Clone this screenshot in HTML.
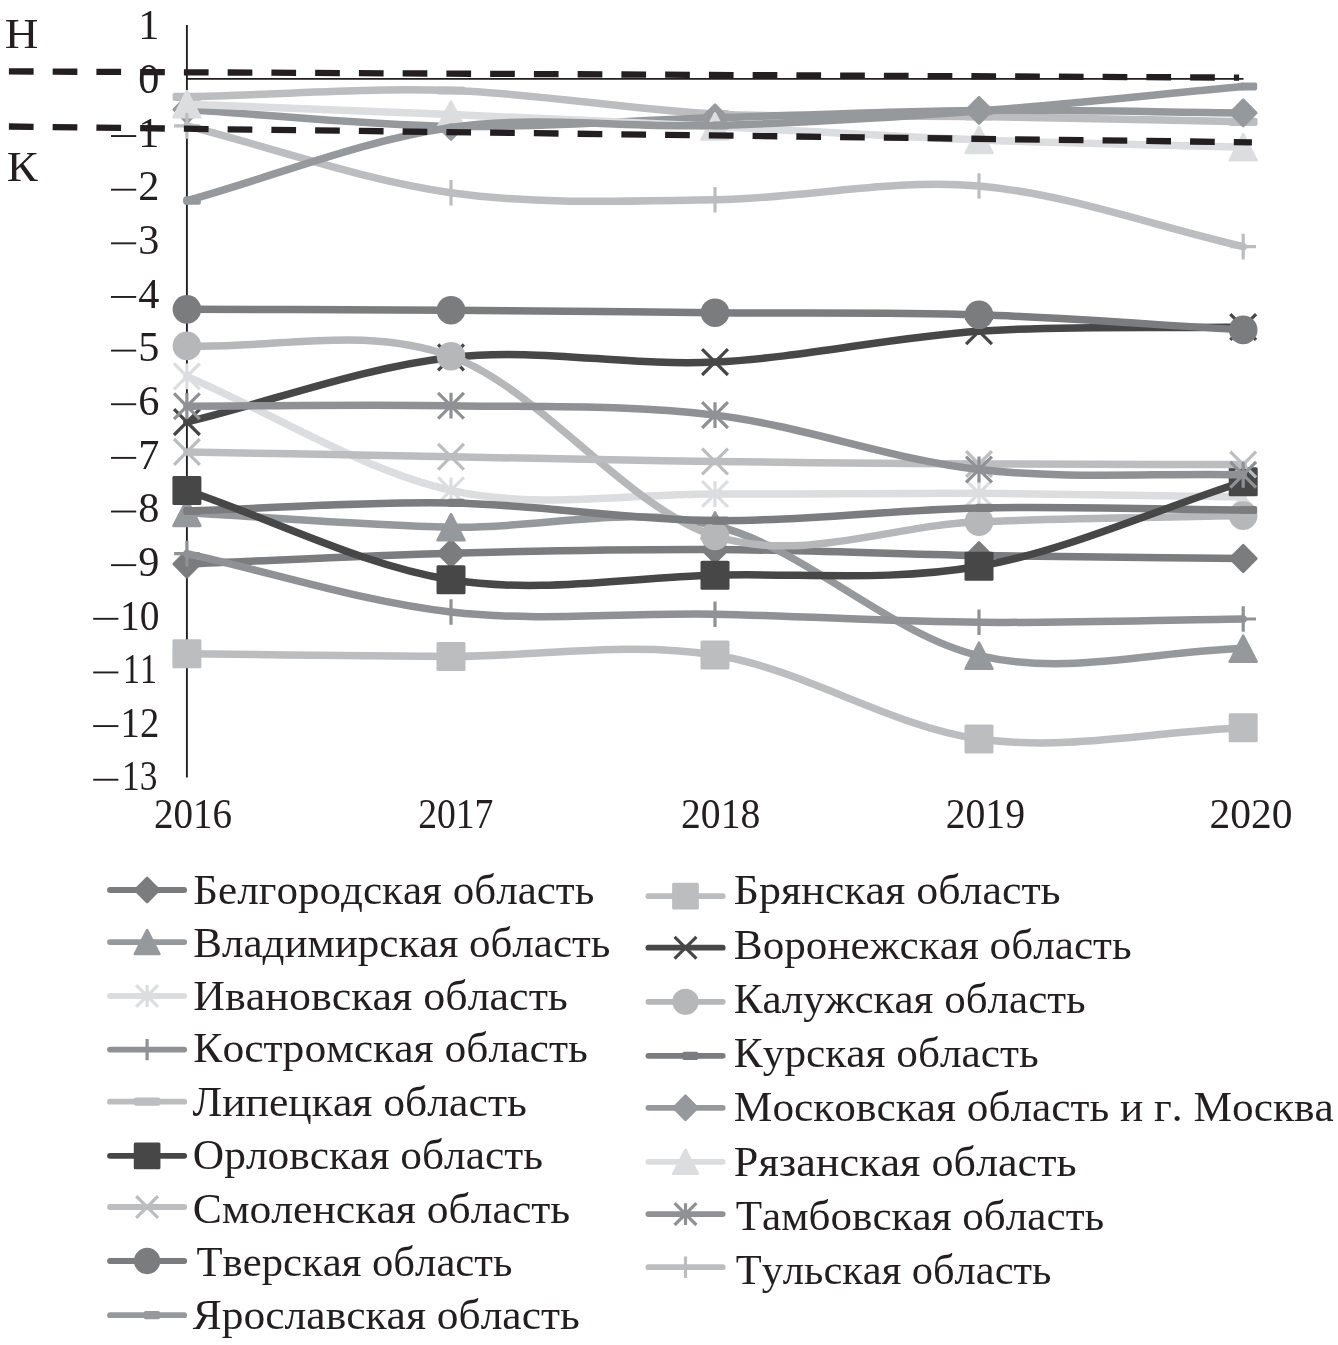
<!DOCTYPE html><html><head><meta charset="utf-8"><style>html,body{margin:0;padding:0;background:#fff;}svg{display:block}text{font-family:"Liberation Serif",serif;font-kerning:none;}svg{will-change:transform}</style></head><body>
<svg width="1338" height="1345" viewBox="0 0 1338 1345">
<rect width="1338" height="1345" fill="#fff"/>
<path d="M186.9,25 L186.9,777.5" stroke="#231f20" stroke-width="1.9" fill="none"/>
<path d="M186.9,78.9 L1243.5,78.9" stroke="#231f20" stroke-width="1.9" fill="none"/>
<path d="M186.90,564.00 C274.93,560.43 362.98,555.72 451.00,553.30 C539.02,550.88 627.00,549.12 715.00,549.50 C803.00,549.88 890.97,554.10 979.00,555.60 C1067.03,557.10 1155.13,557.53 1243.20,558.50" stroke="#7b7c7e" stroke-width="7.5" fill="none" stroke-linecap="round" stroke-linejoin="round"/>
<path d="M186.90,550.75 L200.00,564.00 L186.90,577.25 L173.80,564.00 Z" fill="#7b7c7e" stroke="#7b7c7e" stroke-width="2.60" stroke-linejoin="round"/>
<path d="M451.00,540.05 L464.10,553.30 L451.00,566.55 L437.90,553.30 Z" fill="#7b7c7e" stroke="#7b7c7e" stroke-width="2.60" stroke-linejoin="round"/>
<path d="M715.00,536.25 L728.10,549.50 L715.00,562.75 L701.90,549.50 Z" fill="#7b7c7e" stroke="#7b7c7e" stroke-width="2.60" stroke-linejoin="round"/>
<path d="M979.00,542.35 L992.10,555.60 L979.00,568.85 L965.90,555.60 Z" fill="#7b7c7e" stroke="#7b7c7e" stroke-width="2.60" stroke-linejoin="round"/>
<path d="M1243.20,545.25 L1256.30,558.50 L1243.20,571.75 L1230.10,558.50 Z" fill="#7b7c7e" stroke="#7b7c7e" stroke-width="2.60" stroke-linejoin="round"/>
<path d="M186.90,653.80 C274.93,654.67 362.98,656.20 451.00,656.40 C539.02,656.60 627.00,641.23 715.00,655.00 C803.00,668.77 890.97,726.87 979.00,739.00 C1067.03,751.13 1155.13,731.53 1243.20,727.80" stroke="#bcbdbf" stroke-width="7.5" fill="none" stroke-linecap="round" stroke-linejoin="round"/>
<rect x="172.40" y="639.30" width="29.00" height="29.00" rx="1.5" fill="#bcbdbf"/>
<rect x="436.50" y="641.90" width="29.00" height="29.00" rx="1.5" fill="#bcbdbf"/>
<rect x="700.50" y="640.50" width="29.00" height="29.00" rx="1.5" fill="#bcbdbf"/>
<rect x="964.50" y="724.50" width="29.00" height="29.00" rx="1.5" fill="#bcbdbf"/>
<rect x="1228.70" y="713.30" width="29.00" height="29.00" rx="1.5" fill="#bcbdbf"/>
<path d="M186.90,512.80 C274.93,517.60 362.98,525.08 451.00,527.20 C539.02,529.32 627.00,504.08 715.00,525.50 C803.00,546.92 890.97,635.18 979.00,655.70 C1067.03,676.22 1155.13,650.97 1243.20,648.60" stroke="#96999c" stroke-width="7.5" fill="none" stroke-linecap="round" stroke-linejoin="round"/>
<path d="M186.90,499.75 L200.35,525.85 L173.45,525.85 Z" fill="#96999c" stroke="#96999c" stroke-width="2.60" stroke-linejoin="round"/>
<path d="M451.00,514.15 L464.45,540.25 L437.55,540.25 Z" fill="#96999c" stroke="#96999c" stroke-width="2.60" stroke-linejoin="round"/>
<path d="M715.00,512.45 L728.45,538.55 L701.55,538.55 Z" fill="#96999c" stroke="#96999c" stroke-width="2.60" stroke-linejoin="round"/>
<path d="M979.00,642.65 L992.45,668.75 L965.55,668.75 Z" fill="#96999c" stroke="#96999c" stroke-width="2.60" stroke-linejoin="round"/>
<path d="M1243.20,635.55 L1256.65,661.65 L1229.75,661.65 Z" fill="#96999c" stroke="#96999c" stroke-width="2.60" stroke-linejoin="round"/>
<path d="M186.90,422.10 C274.93,400.53 362.98,367.40 451.00,357.40 C539.02,347.40 627.00,366.47 715.00,362.10 C803.00,357.73 890.97,337.05 979.00,331.20 C1067.03,325.35 1155.13,328.40 1243.20,327.00" stroke="#474748" stroke-width="7.5" fill="none" stroke-linecap="round" stroke-linejoin="round"/>
<path d="M174.00,409.20 L199.80,435.00 M174.00,435.00 L199.80,409.20" stroke="#474748" stroke-width="3.2" fill="none"/>
<path d="M438.10,344.50 L463.90,370.30 M438.10,370.30 L463.90,344.50" stroke="#474748" stroke-width="3.2" fill="none"/>
<path d="M702.10,349.20 L727.90,375.00 M702.10,375.00 L727.90,349.20" stroke="#474748" stroke-width="3.2" fill="none"/>
<path d="M966.10,318.30 L991.90,344.10 M966.10,344.10 L991.90,318.30" stroke="#474748" stroke-width="3.2" fill="none"/>
<path d="M1230.30,314.10 L1256.10,339.90 M1230.30,339.90 L1256.10,314.10" stroke="#474748" stroke-width="3.2" fill="none"/>
<path d="M186.90,376.40 C274.93,414.37 362.98,470.70 451.00,490.30 C539.02,509.90 627.00,493.52 715.00,494.00 C803.00,494.48 890.97,492.70 979.00,493.20 C1067.03,493.70 1155.13,495.73 1243.20,497.00" stroke="#dcddde" stroke-width="7.5" fill="none" stroke-linecap="round" stroke-linejoin="round"/>
<path d="M174.00,363.50 L199.80,389.30 M174.00,389.30 L199.80,363.50 M186.90,363.50 L186.90,389.30" stroke="#dcddde" stroke-width="3.2" fill="none"/>
<path d="M438.10,477.40 L463.90,503.20 M438.10,503.20 L463.90,477.40 M451.00,477.40 L451.00,503.20" stroke="#dcddde" stroke-width="3.2" fill="none"/>
<path d="M702.10,481.10 L727.90,506.90 M702.10,506.90 L727.90,481.10 M715.00,481.10 L715.00,506.90" stroke="#dcddde" stroke-width="3.2" fill="none"/>
<path d="M966.10,480.30 L991.90,506.10 M966.10,506.10 L991.90,480.30 M979.00,480.30 L979.00,506.10" stroke="#dcddde" stroke-width="3.2" fill="none"/>
<path d="M1230.30,484.10 L1256.10,509.90 M1230.30,509.90 L1256.10,484.10 M1243.20,484.10 L1243.20,509.90" stroke="#dcddde" stroke-width="3.2" fill="none"/>
<path d="M186.90,345.90 C274.93,349.33 362.98,324.52 451.00,356.20 C539.02,387.88 627.00,508.42 715.00,536.00 C803.00,563.58 890.97,525.10 979.00,521.70 C1067.03,518.30 1155.13,517.63 1243.20,515.60" stroke="#b6b7b9" stroke-width="7.5" fill="none" stroke-linecap="round" stroke-linejoin="round"/>
<circle cx="186.90" cy="345.90" r="14.30" fill="#b6b7b9"/>
<circle cx="451.00" cy="356.20" r="14.30" fill="#b6b7b9"/>
<circle cx="715.00" cy="536.00" r="14.30" fill="#b6b7b9"/>
<circle cx="979.00" cy="521.70" r="14.30" fill="#b6b7b9"/>
<circle cx="1243.20" cy="515.60" r="14.30" fill="#b6b7b9"/>
<path d="M186.90,553.60 C274.93,573.07 362.98,601.90 451.00,612.00 C539.02,622.10 627.00,612.48 715.00,614.20 C803.00,615.92 890.97,621.50 979.00,622.30 C1067.03,623.10 1155.13,620.10 1243.20,619.00" stroke="#909194" stroke-width="7.5" fill="none" stroke-linecap="round" stroke-linejoin="round"/>
<path d="M174.10,553.60 L199.70,553.60 M186.90,540.80 L186.90,566.40" stroke="#909194" stroke-width="3.2" fill="none"/>
<path d="M438.20,612.00 L463.80,612.00 M451.00,599.20 L451.00,624.80" stroke="#909194" stroke-width="3.2" fill="none"/>
<path d="M702.20,614.20 L727.80,614.20 M715.00,601.40 L715.00,627.00" stroke="#909194" stroke-width="3.2" fill="none"/>
<path d="M966.20,622.30 L991.80,622.30 M979.00,609.50 L979.00,635.10" stroke="#909194" stroke-width="3.2" fill="none"/>
<path d="M1230.40,619.00 L1256.00,619.00 M1243.20,606.20 L1243.20,631.80" stroke="#909194" stroke-width="3.2" fill="none"/>
<path d="M186.90,511.00 C274.93,508.30 362.98,501.30 451.00,502.90 C539.02,504.50 627.00,519.77 715.00,520.60 C803.00,521.43 890.97,509.67 979.00,507.90 C1067.03,506.13 1155.13,509.30 1243.20,510.00" stroke="#7b7c7e" stroke-width="7.5" fill="none" stroke-linecap="round" stroke-linejoin="round"/>
<rect x="183.40" y="506.90" width="17.50" height="8.20" rx="2" fill="#7b7c7e"/>
<rect x="447.50" y="498.80" width="17.50" height="8.20" rx="2" fill="#7b7c7e"/>
<rect x="711.50" y="516.50" width="17.50" height="8.20" rx="2" fill="#7b7c7e"/>
<rect x="975.50" y="503.80" width="17.50" height="8.20" rx="2" fill="#7b7c7e"/>
<rect x="1239.70" y="505.90" width="17.50" height="8.20" rx="2" fill="#7b7c7e"/>
<path d="M186.90,96.90 C274.93,94.77 362.98,87.65 451.00,90.50 C539.02,93.35 627.00,109.67 715.00,114.00 C803.00,118.33 890.97,115.20 979.00,116.50 C1067.03,117.80 1155.13,120.03 1243.20,121.80" stroke="#bcbdbf" stroke-width="7.5" fill="none" stroke-linecap="round" stroke-linejoin="round"/>
<rect x="172.60" y="92.80" width="28.60" height="8.20" rx="2" fill="#bcbdbf"/>
<rect x="436.70" y="86.40" width="28.60" height="8.20" rx="2" fill="#bcbdbf"/>
<rect x="700.70" y="109.90" width="28.60" height="8.20" rx="2" fill="#bcbdbf"/>
<rect x="964.70" y="112.40" width="28.60" height="8.20" rx="2" fill="#bcbdbf"/>
<rect x="1228.90" y="117.70" width="28.60" height="8.20" rx="2" fill="#bcbdbf"/>
<path d="M186.90,109.50 C274.93,115.13 362.98,125.02 451.00,126.40 C539.02,127.78 627.00,120.47 715.00,117.80 C803.00,115.13 890.97,111.22 979.00,110.40 C1067.03,109.58 1155.13,112.07 1243.20,112.90" stroke="#96999c" stroke-width="7.5" fill="none" stroke-linecap="round" stroke-linejoin="round"/>
<path d="M186.90,96.25 L200.00,109.50 L186.90,122.75 L173.80,109.50 Z" fill="#96999c" stroke="#96999c" stroke-width="2.60" stroke-linejoin="round"/>
<path d="M451.00,113.15 L464.10,126.40 L451.00,139.65 L437.90,126.40 Z" fill="#96999c" stroke="#96999c" stroke-width="2.60" stroke-linejoin="round"/>
<path d="M715.00,104.55 L728.10,117.80 L715.00,131.05 L701.90,117.80 Z" fill="#96999c" stroke="#96999c" stroke-width="2.60" stroke-linejoin="round"/>
<path d="M979.00,97.15 L992.10,110.40 L979.00,123.65 L965.90,110.40 Z" fill="#96999c" stroke="#96999c" stroke-width="2.60" stroke-linejoin="round"/>
<path d="M1243.20,99.65 L1256.30,112.90 L1243.20,126.15 L1230.10,112.90 Z" fill="#96999c" stroke="#96999c" stroke-width="2.60" stroke-linejoin="round"/>
<path d="M186.90,490.50 C274.93,520.27 362.98,565.68 451.00,579.80 C539.02,593.92 627.00,577.45 715.00,575.20 C803.00,572.95 890.97,581.88 979.00,566.30 C1067.03,550.72 1155.13,509.90 1243.20,481.70" stroke="#474748" stroke-width="7.5" fill="none" stroke-linecap="round" stroke-linejoin="round"/>
<rect x="172.40" y="476.00" width="29.00" height="29.00" rx="1.5" fill="#474748"/>
<rect x="436.50" y="565.30" width="29.00" height="29.00" rx="1.5" fill="#474748"/>
<rect x="700.50" y="560.70" width="29.00" height="29.00" rx="1.5" fill="#474748"/>
<rect x="964.50" y="551.80" width="29.00" height="29.00" rx="1.5" fill="#474748"/>
<rect x="1228.70" y="467.20" width="29.00" height="29.00" rx="1.5" fill="#474748"/>
<path d="M186.90,104.20 C274.93,107.67 362.98,110.88 451.00,114.60 C539.02,118.32 627.00,122.27 715.00,126.50 C803.00,130.73 890.97,136.55 979.00,140.00 C1067.03,143.45 1155.13,144.80 1243.20,147.20" stroke="#dcddde" stroke-width="7.5" fill="none" stroke-linecap="round" stroke-linejoin="round"/>
<path d="M186.90,91.15 L200.35,117.25 L173.45,117.25 Z" fill="#dcddde" stroke="#dcddde" stroke-width="2.60" stroke-linejoin="round"/>
<path d="M451.00,101.55 L464.45,127.65 L437.55,127.65 Z" fill="#dcddde" stroke="#dcddde" stroke-width="2.60" stroke-linejoin="round"/>
<path d="M715.00,113.45 L728.45,139.55 L701.55,139.55 Z" fill="#dcddde" stroke="#dcddde" stroke-width="2.60" stroke-linejoin="round"/>
<path d="M979.00,126.95 L992.45,153.05 L965.55,153.05 Z" fill="#dcddde" stroke="#dcddde" stroke-width="2.60" stroke-linejoin="round"/>
<path d="M1243.20,134.15 L1256.65,160.25 L1229.75,160.25 Z" fill="#dcddde" stroke="#dcddde" stroke-width="2.60" stroke-linejoin="round"/>
<path d="M186.90,451.90 C274.93,453.53 362.98,455.20 451.00,456.80 C539.02,458.40 627.00,460.30 715.00,461.50 C803.00,462.70 890.97,463.50 979.00,464.00 C1067.03,464.50 1155.13,464.33 1243.20,464.50" stroke="#bcbdbf" stroke-width="7.5" fill="none" stroke-linecap="round" stroke-linejoin="round"/>
<path d="M174.00,439.00 L199.80,464.80 M174.00,464.80 L199.80,439.00" stroke="#bcbdbf" stroke-width="3.2" fill="none"/>
<path d="M438.10,443.90 L463.90,469.70 M438.10,469.70 L463.90,443.90" stroke="#bcbdbf" stroke-width="3.2" fill="none"/>
<path d="M702.10,448.60 L727.90,474.40 M702.10,474.40 L727.90,448.60" stroke="#bcbdbf" stroke-width="3.2" fill="none"/>
<path d="M966.10,451.10 L991.90,476.90 M966.10,476.90 L991.90,451.10" stroke="#bcbdbf" stroke-width="3.2" fill="none"/>
<path d="M1230.30,451.60 L1256.10,477.40 M1230.30,477.40 L1256.10,451.60" stroke="#bcbdbf" stroke-width="3.2" fill="none"/>
<path d="M186.90,406.20 C274.93,406.03 362.98,404.22 451.00,405.70 C539.02,407.18 627.00,404.47 715.00,415.10 C803.00,425.73 890.97,459.55 979.00,469.50 C1067.03,479.45 1155.13,473.03 1243.20,474.80" stroke="#909194" stroke-width="7.5" fill="none" stroke-linecap="round" stroke-linejoin="round"/>
<path d="M174.00,393.30 L199.80,419.10 M174.00,419.10 L199.80,393.30 M186.90,393.30 L186.90,419.10" stroke="#909194" stroke-width="3.2" fill="none"/>
<path d="M438.10,392.80 L463.90,418.60 M438.10,418.60 L463.90,392.80 M451.00,392.80 L451.00,418.60" stroke="#909194" stroke-width="3.2" fill="none"/>
<path d="M702.10,402.20 L727.90,428.00 M702.10,428.00 L727.90,402.20 M715.00,402.20 L715.00,428.00" stroke="#909194" stroke-width="3.2" fill="none"/>
<path d="M966.10,456.60 L991.90,482.40 M966.10,482.40 L991.90,456.60 M979.00,456.60 L979.00,482.40" stroke="#909194" stroke-width="3.2" fill="none"/>
<path d="M1230.30,461.90 L1256.10,487.70 M1230.30,487.70 L1256.10,461.90 M1243.20,461.90 L1243.20,487.70" stroke="#909194" stroke-width="3.2" fill="none"/>
<path d="M186.90,309.30 C274.93,309.60 362.98,309.63 451.00,310.20 C539.02,310.77 627.00,311.93 715.00,312.70 C803.00,313.47 890.97,311.93 979.00,314.80 C1067.03,317.67 1155.13,324.87 1243.20,329.90" stroke="#7b7c7e" stroke-width="7.5" fill="none" stroke-linecap="round" stroke-linejoin="round"/>
<circle cx="186.90" cy="309.30" r="14.30" fill="#7b7c7e"/>
<circle cx="451.00" cy="310.20" r="14.30" fill="#7b7c7e"/>
<circle cx="715.00" cy="312.70" r="14.30" fill="#7b7c7e"/>
<circle cx="979.00" cy="314.80" r="14.30" fill="#7b7c7e"/>
<circle cx="1243.20" cy="329.90" r="14.30" fill="#7b7c7e"/>
<path d="M186.90,125.90 C274.93,148.17 362.98,180.38 451.00,192.70 C539.02,205.02 627.00,200.92 715.00,199.80 C803.00,198.68 890.97,178.20 979.00,186.00 C1067.03,193.80 1155.13,226.40 1243.20,246.60" stroke="#bcbdbf" stroke-width="7.5" fill="none" stroke-linecap="round" stroke-linejoin="round"/>
<path d="M174.10,125.90 L199.70,125.90 M186.90,113.10 L186.90,138.70" stroke="#bcbdbf" stroke-width="3.2" fill="none"/>
<path d="M438.20,192.70 L463.80,192.70 M451.00,179.90 L451.00,205.50" stroke="#bcbdbf" stroke-width="3.2" fill="none"/>
<path d="M702.20,199.80 L727.80,199.80 M715.00,187.00 L715.00,212.60" stroke="#bcbdbf" stroke-width="3.2" fill="none"/>
<path d="M966.20,186.00 L991.80,186.00 M979.00,173.20 L979.00,198.80" stroke="#bcbdbf" stroke-width="3.2" fill="none"/>
<path d="M1230.40,246.60 L1256.00,246.60 M1243.20,233.80 L1243.20,259.40" stroke="#bcbdbf" stroke-width="3.2" fill="none"/>
<path d="M186.90,200.70 C274.93,176.30 362.98,140.03 451.00,127.50 C539.02,114.97 627.00,128.25 715.00,125.50 C803.00,122.75 890.97,117.50 979.00,111.00 C1067.03,104.50 1155.13,94.67 1243.20,86.50" stroke="#96999c" stroke-width="7.5" fill="none" stroke-linecap="round" stroke-linejoin="round"/>
<rect x="183.40" y="196.60" width="17.50" height="8.20" rx="2" fill="#96999c"/>
<rect x="447.50" y="123.40" width="17.50" height="8.20" rx="2" fill="#96999c"/>
<rect x="711.50" y="121.40" width="17.50" height="8.20" rx="2" fill="#96999c"/>
<rect x="975.50" y="106.90" width="17.50" height="8.20" rx="2" fill="#96999c"/>
<rect x="1239.70" y="82.40" width="17.50" height="8.20" rx="2" fill="#96999c"/>
<path d="M8.9,71.4 L1239.1,77.6" stroke="#231f20" stroke-width="6.3" stroke-dasharray="24.7 19.05" fill="none"/>
<path d="M8.9,126.5 L1251.9,142.3" stroke="#231f20" stroke-width="6.3" stroke-dasharray="24.7 19.05" fill="none"/>
<text x="159.5" y="39.46" font-size="42.30" text-anchor="end" fill="#231f20">1</text>
<text x="159.5" y="93.10" font-size="42.30" text-anchor="end" fill="#231f20">0</text>
<text x="159.5" y="146.74" font-size="42.30" text-anchor="end" fill="#231f20">1</text>
<rect x="111.00" y="135.09" width="25.20" height="1.9" fill="#231f20"/>
<text x="159.5" y="200.38" font-size="42.30" text-anchor="end" fill="#231f20">2</text>
<rect x="111.00" y="188.73" width="25.20" height="1.9" fill="#231f20"/>
<text x="159.5" y="254.02" font-size="42.30" text-anchor="end" fill="#231f20">3</text>
<rect x="111.00" y="242.37" width="25.20" height="1.9" fill="#231f20"/>
<text x="159.5" y="307.66" font-size="42.30" text-anchor="end" fill="#231f20">4</text>
<rect x="111.00" y="296.01" width="25.20" height="1.9" fill="#231f20"/>
<text x="159.5" y="361.30" font-size="42.30" text-anchor="end" fill="#231f20">5</text>
<rect x="111.00" y="349.65" width="25.20" height="1.9" fill="#231f20"/>
<text x="159.5" y="414.94" font-size="42.30" text-anchor="end" fill="#231f20">6</text>
<rect x="111.00" y="403.29" width="25.20" height="1.9" fill="#231f20"/>
<text x="159.5" y="468.58" font-size="42.30" text-anchor="end" fill="#231f20">7</text>
<rect x="111.00" y="456.93" width="25.20" height="1.9" fill="#231f20"/>
<text x="159.5" y="522.22" font-size="42.30" text-anchor="end" fill="#231f20">8</text>
<rect x="111.00" y="510.57" width="25.20" height="1.9" fill="#231f20"/>
<text x="159.5" y="575.86" font-size="42.30" text-anchor="end" fill="#231f20">9</text>
<rect x="111.00" y="564.21" width="25.20" height="1.9" fill="#231f20"/>
<text transform="translate(119.93,629.50) scale(0.9332,1)" font-size="42.30" fill="#231f20">10</text>
<rect x="93.20" y="617.85" width="25.20" height="1.9" fill="#231f20"/>
<text transform="translate(122.91,683.14) scale(0.8046,1)" font-size="42.30" fill="#231f20">11</text>
<rect x="93.20" y="671.49" width="25.20" height="1.9" fill="#231f20"/>
<text transform="translate(120.59,736.78) scale(0.9159,1)" font-size="42.30" fill="#231f20">12</text>
<rect x="93.20" y="725.13" width="25.20" height="1.9" fill="#231f20"/>
<text transform="translate(122.09,790.42) scale(0.8367,1)" font-size="42.30" fill="#231f20">13</text>
<rect x="93.20" y="778.77" width="25.20" height="1.9" fill="#231f20"/>
<text transform="translate(153.98,827.80) scale(0.9307,1)" font-size="42.00" fill="#231f20">2016</text>
<text transform="translate(418.14,827.80) scale(0.8969,1)" font-size="42.00" fill="#231f20">2017</text>
<text transform="translate(681.06,827.80) scale(0.9435,1)" font-size="42.00" fill="#231f20">2018</text>
<text transform="translate(945.66,827.80) scale(0.9449,1)" font-size="42.00" fill="#231f20">2019</text>
<text transform="translate(1209.58,827.80) scale(0.9881,1)" font-size="42.00" fill="#231f20">2020</text>
<text transform="translate(4.66,48.40) scale(1.0771,1)" font-size="43.20" fill="#231f20">Н</text>
<text transform="translate(6.86,180.80) scale(1.1059,1)" font-size="42.00" fill="#231f20">К</text>
<path d="M110.00,890.00 L184.20,890.00" stroke="#7b7c7e" stroke-width="5.8" stroke-linecap="round"/>
<path d="M147.10,877.91 L159.05,890.00 L147.10,902.09 L135.15,890.00 Z" fill="#7b7c7e" stroke="#7b7c7e" stroke-width="2.60" stroke-linejoin="round"/>
<text transform="translate(193.36,903.90) scale(1.0186,1)" font-size="42.30" fill="#231f20">Белгородская область</text>
<path d="M648.40,896.20 L722.70,896.20" stroke="#bcbdbf" stroke-width="5.8" stroke-linecap="round"/>
<rect x="672.16" y="882.86" width="26.68" height="26.68" rx="1.5" fill="#bcbdbf"/>
<text transform="translate(733.83,903.90) scale(1.0385,1)" font-size="42.30" fill="#231f20">Брянская область</text>
<path d="M110.00,942.10 L184.20,942.10" stroke="#96999c" stroke-width="5.8" stroke-linecap="round"/>
<path d="M147.10,930.20 L159.37,954.00 L134.83,954.00 Z" fill="#96999c" stroke="#96999c" stroke-width="2.60" stroke-linejoin="round"/>
<text transform="translate(193.36,956.60) scale(1.0173,1)" font-size="42.30" fill="#231f20">Владимирская область</text>
<path d="M648.40,947.70 L722.70,947.70" stroke="#474748" stroke-width="5.8" stroke-linecap="round"/>
<path d="M674.60,936.80 L696.40,958.60 M674.60,958.60 L696.40,936.80" stroke="#474748" stroke-width="3.2" fill="none"/>
<text transform="translate(733.86,958.90) scale(1.0213,1)" font-size="42.30" fill="#231f20">Воронежская область</text>
<path d="M110.00,996.00 L184.20,996.00" stroke="#dcddde" stroke-width="5.8" stroke-linecap="round"/>
<path d="M136.20,985.10 L158.00,1006.90 M136.20,1006.90 L158.00,985.10 M147.10,985.10 L147.10,1006.90" stroke="#dcddde" stroke-width="3.2" fill="none"/>
<text transform="translate(193.33,1009.70) scale(1.0400,1)" font-size="42.30" fill="#231f20">Ивановская область</text>
<path d="M648.40,1001.80 L722.70,1001.80" stroke="#b6b7b9" stroke-width="5.8" stroke-linecap="round"/>
<circle cx="685.50" cy="1001.80" r="13.16" fill="#b6b7b9"/>
<text transform="translate(733.86,1012.50) scale(1.0183,1)" font-size="42.30" fill="#231f20">Калужская область</text>
<path d="M110.00,1049.60 L184.20,1049.60" stroke="#909194" stroke-width="5.8" stroke-linecap="round"/>
<path d="M136.40,1049.60 L157.80,1049.60 M147.10,1038.90 L147.10,1060.30" stroke="#909194" stroke-width="3.2" fill="none"/>
<text transform="translate(193.34,1062.40) scale(1.0307,1)" font-size="42.30" fill="#231f20">Костромская область</text>
<path d="M648.40,1055.80 L722.70,1055.80" stroke="#7b7c7e" stroke-width="5.8" stroke-linecap="round"/>
<rect x="682.28" y="1051.70" width="16.10" height="8.20" rx="2" fill="#7b7c7e"/>
<text transform="translate(733.85,1066.60) scale(1.0239,1)" font-size="42.30" fill="#231f20">Курская область</text>
<path d="M110.00,1101.70 L184.20,1101.70" stroke="#bcbdbf" stroke-width="5.8" stroke-linecap="round"/>
<rect x="133.94" y="1097.60" width="26.31" height="8.20" rx="2" fill="#bcbdbf"/>
<text transform="translate(192.59,1115.70) scale(1.0324,1)" font-size="42.30" fill="#231f20">Липецкая область</text>
<path d="M648.40,1107.80 L722.70,1107.80" stroke="#96999c" stroke-width="5.8" stroke-linecap="round"/>
<path d="M685.50,1095.71 L697.45,1107.80 L685.50,1119.89 L673.55,1107.80 Z" fill="#96999c" stroke="#96999c" stroke-width="2.60" stroke-linejoin="round"/>
<text transform="translate(733.85,1120.60) scale(1.0247,1)" font-size="42.30" fill="#231f20">Московская область и г. Москва</text>
<path d="M110.00,1155.80 L184.20,1155.80" stroke="#474748" stroke-width="5.8" stroke-linecap="round"/>
<rect x="133.76" y="1142.46" width="26.68" height="26.68" rx="1.5" fill="#474748"/>
<text transform="translate(192.82,1169.40) scale(1.0265,1)" font-size="42.30" fill="#231f20">Орловская область</text>
<path d="M648.40,1161.80 L722.70,1161.80" stroke="#dcddde" stroke-width="5.8" stroke-linecap="round"/>
<path d="M685.50,1149.90 L697.77,1173.70 L673.23,1173.70 Z" fill="#dcddde" stroke="#dcddde" stroke-width="2.60" stroke-linejoin="round"/>
<text transform="translate(733.83,1175.90) scale(1.0444,1)" font-size="42.30" fill="#231f20">Рязанская область</text>
<path d="M110.00,1207.00 L184.20,1207.00" stroke="#bcbdbf" stroke-width="5.8" stroke-linecap="round"/>
<path d="M136.20,1196.10 L158.00,1217.90 M136.20,1217.90 L158.00,1196.10" stroke="#bcbdbf" stroke-width="3.2" fill="none"/>
<text transform="translate(192.81,1223.40) scale(1.0318,1)" font-size="42.30" fill="#231f20">Смоленская область</text>
<path d="M648.40,1214.10 L722.70,1214.10" stroke="#909194" stroke-width="5.8" stroke-linecap="round"/>
<path d="M674.60,1203.20 L696.40,1225.00 M674.60,1225.00 L696.40,1203.20 M685.50,1203.20 L685.50,1225.00" stroke="#909194" stroke-width="3.2" fill="none"/>
<text transform="translate(735.72,1229.90) scale(1.0200,1)" font-size="42.30" fill="#231f20">Тамбовская область</text>
<path d="M110.00,1261.00 L184.20,1261.00" stroke="#7b7c7e" stroke-width="5.8" stroke-linecap="round"/>
<circle cx="147.10" cy="1261.00" r="13.16" fill="#7b7c7e"/>
<text transform="translate(196.43,1275.80) scale(1.0099,1)" font-size="42.30" fill="#231f20">Тверская область</text>
<path d="M648.40,1267.20 L722.70,1267.20" stroke="#bcbdbf" stroke-width="5.8" stroke-linecap="round"/>
<path d="M674.80,1267.20 L696.20,1267.20 M685.50,1256.50 L685.50,1277.90" stroke="#bcbdbf" stroke-width="3.2" fill="none"/>
<text transform="translate(735.73,1283.80) scale(1.0036,1)" font-size="42.30" fill="#231f20">Тульская область</text>
<path d="M110.00,1315.20 L184.20,1315.20" stroke="#96999c" stroke-width="5.8" stroke-linecap="round"/>
<rect x="143.88" y="1311.10" width="16.10" height="8.20" rx="2" fill="#96999c"/>
<text transform="translate(192.83,1328.60) scale(1.0284,1)" font-size="42.30" fill="#231f20">Ярославская область</text>
</svg></body></html>
